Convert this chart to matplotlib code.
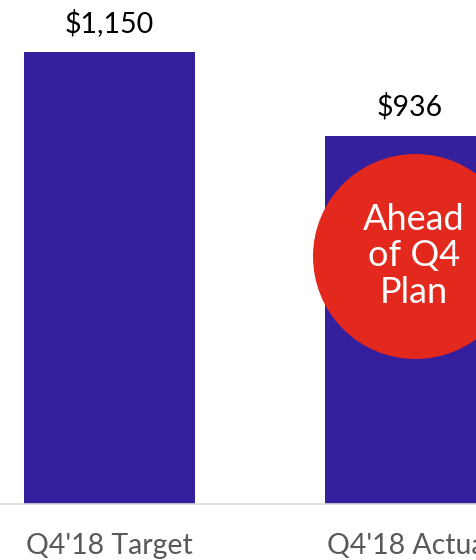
import matplotlib
matplotlib.use('Agg')
import matplotlib.pyplot as plt

categories = ["Q4'18 Target", "Q4'18 Actual"]
values = [1150, 936]
value_labels = ['$1,150', '$936']
callout = 'Ahead\nof Q4\nPlan'

plt.rcParams['font.family'] = ['Lato', 'DejaVu Sans']

fig = plt.figure(figsize=(4.76, 5.6), dpi=100)
ax = fig.add_axes([0, 1 - 503.5 / 560, 1, 503.5 / 560])

x = range(len(categories))
bars = ax.bar(x, values, width=0.569, color='#341f9c', zorder=2)
ax.set_xlim(-0.3644, 1.2196)
ax.set_ylim(0, 1282)

for b, lab in zip(bars, value_labels):
    ax.annotate(lab, (b.get_x() + b.get_width() / 2, b.get_height()),
                xytext=(0, 11), textcoords='offset points',
                ha='center', va='bottom', fontsize=20.5, color='black')

ax.set_xticks(list(x))
ax.set_xticklabels(categories, fontsize=20.5, color='#595959')
ax.tick_params(axis='x', length=0, pad=21)
ax.set_yticks([])
for s in ['top', 'right', 'left']:
    ax.spines[s].set_visible(False)
ax.spines['bottom'].set_color('#d9d9d9')
ax.spines['bottom'].set_linewidth(1.2)

# red callout circle
ax.scatter([0.872], [0.4916], s=147.6 ** 2, color='#e3281e', transform=ax.transAxes,
           clip_on=False, zorder=3, linewidths=0)
ax.text(0.870, 0.4916, callout, transform=ax.transAxes, ha='center', va='center',
        color='white', fontsize=26, linespacing=1.12, zorder=4)

fig.savefig('out.png', dpi=100)
